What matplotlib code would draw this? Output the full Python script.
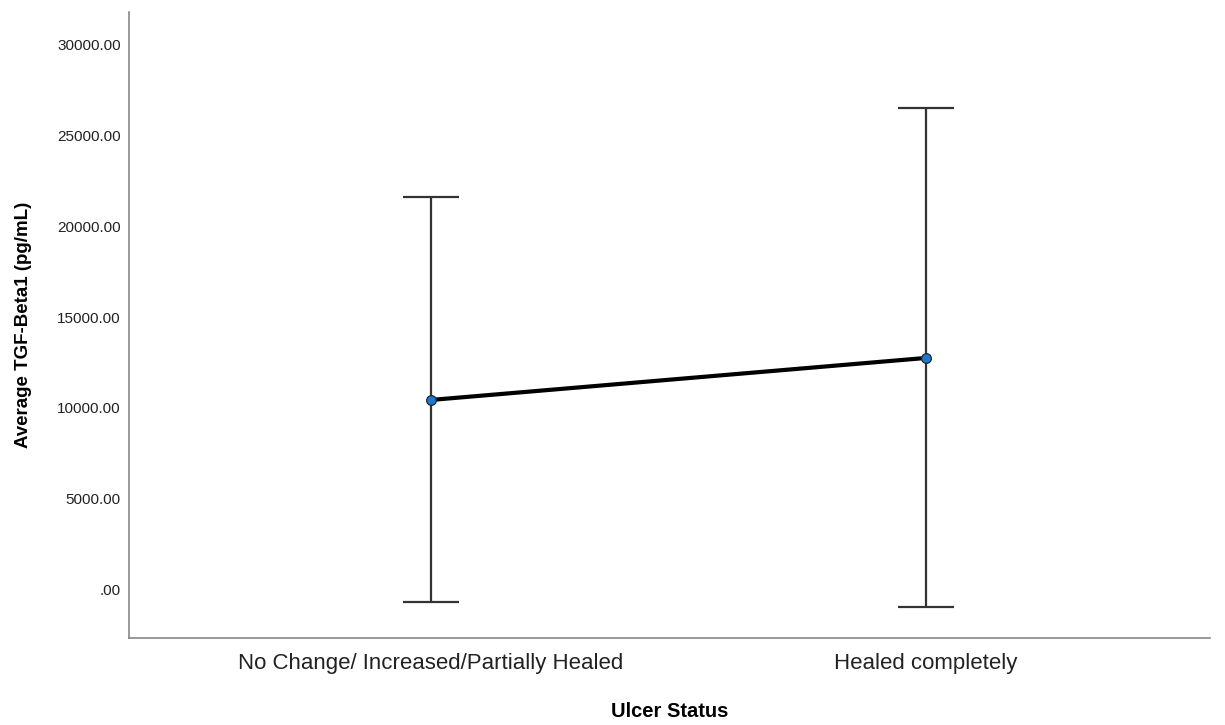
import matplotlib.pyplot as plt

# Average TGF-Beta1 by ulcer status, with error bars
categories = ["No Change/ Increased/Partially Healed", "Healed completely"]
means = [10440, 12750]
upper = [21590, 26480]
lower = [-660, -930]

plt.rcParams['font.family'] = ['Liberation Sans', 'DejaVu Sans']

fig = plt.figure(figsize=(12.25, 7.25), dpi=100)
ax = fig.add_axes([0.1053, 0.12, 0.8825, 0.8634])

x = list(range(len(categories)))
err_low = [m - l for m, l in zip(means, lower)]
err_high = [u - m for m, u in zip(means, upper)]

ax.errorbar(x, means, yerr=[err_low, err_high], fmt='none', ecolor='#333333',
            elinewidth=1.6, capsize=20, capthick=1.6, zorder=2)
ax.plot(x, means, color='black', linewidth=3, zorder=3)
ax.plot(x, means, 'o', markersize=7, markerfacecolor='#1f77c8',
        markeredgecolor='#1a2a3a', markeredgewidth=0.9, zorder=4)

ax.set_xlim(-0.609, 1.574)
ax.set_ylim(-2640, 31760)
ax.set_yticks([0, 5000, 10000, 15000, 20000, 25000, 30000])
ax.set_yticklabels(['.00', '5000.00', '10000.00', '15000.00', '20000.00', '25000.00', '30000.00'],
                   fontsize=11)
ax.set_xticks(x)
ax.set_xticklabels(categories, fontsize=16)
ax.tick_params(axis='both', length=0)
ax.tick_params(axis='y', pad=6, colors='#222222')
ax.tick_params(axis='x', pad=11, colors='#222222')

for side in ['top', 'right']:
    ax.spines[side].set_visible(False)
for side in ['left', 'bottom']:
    ax.spines[side].set_color('#888888')
    ax.spines[side].set_linewidth(1.2)

ax.set_xlabel("Ulcer Status", fontsize=14.5, fontweight='bold', labelpad=20)
ax.set_ylabel("Average TGF-Beta1 (pg/mL)", fontsize=13.5, fontweight='bold', labelpad=18)

fig.savefig("out.png", dpi=100)
